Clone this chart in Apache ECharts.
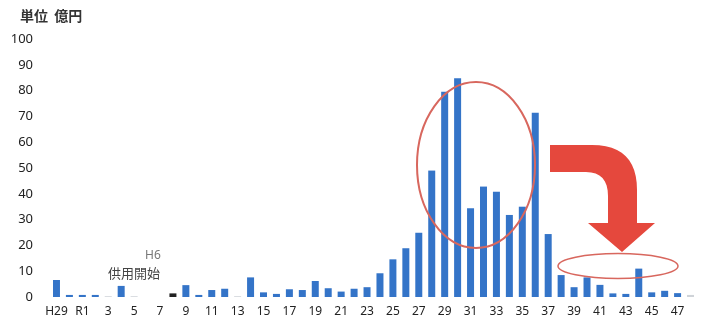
<!DOCTYPE html>
<html>
<head>
<meta charset="utf-8">
<script src="https://cdn.jsdelivr.net/npm/echarts@6/dist/echarts.min.js"></script>
<style>
  html, body { margin: 0; padding: 0; background: #fff; }
  #chart { width: 703px; height: 320px; }
</style>
</head>
<body>
<div id="chart"></div>
<script>
// 年度（H29, H30, R1..R48）
var years = ['H29', 'H30', 'R1'];
for (var i = 2; i <= 48; i++) years.push(String(i));

// 金額（億円）
var amounts = [
  6.6, 0.8, 0.8, 0.8, 0.3, 4.3, 0.3, 0, 0, 1.4,
  4.6, 0.8, 2.7, 3.2, 0.3, 7.6, 1.8, 1.2, 3.0, 2.7,
  6.2, 3.4, 2.1, 3.2, 3.8, 9.2, 14.6, 18.9, 24.9, 49,
  79.6, 84.8, 34.4, 42.8, 40.8, 31.8, 35, 71.4, 24.4, 8.5,
  3.8, 7.6, 4.7, 1.4, 1.2, 11, 1.8, 2.4, 1.5, 0.8
];

// 色分け用
var greyYears = ['3', '5', '13', '48'];
var blackYears = ['8'];

var yTicks = [0, 10, 20, 30, 40, 50, 60, 70, 80, 90, 100];

// 2次ベジェを点列に
function quad(p0, c, p1, n){
  var pts = [];
  for (var k = 0; k <= n; k++) {
    var t = k / n, u = 1 - t;
    pts.push([u*u*p0[0] + 2*u*t*c[0] + t*t*p1[0], u*u*p0[1] + 2*u*t*c[1] + t*t*p1[1]]);
  }
  return pts;
}

function arrowPoints(){
  var pts = [[550, 145]];
  pts = pts.concat(quad([592, 145], [637, 145], [637, 190], 12));
  pts.push([637, 223], [655, 223], [622, 252], [588, 223], [608, 223]);
  pts = pts.concat(quad([608, 196], [608, 172], [586, 172], 8));
  pts.push([550, 172]);
  return pts;
}

function chart(){
  var myChart = echarts.init(document.getElementById('chart'));

  var option = {
    animation: false,
    grid: { left: 50, right: 6, top: 39, bottom: 23 },
    xAxis: {
      type: 'category',
      data: years,
      axisLine: { show: false },
      axisTick: { show: false },
      axisLabel: {
        interval: 1,
        color: '#222',
        fontSize: 12,
        fontFamily: 'Noto Sans',
        margin: 9
      }
    },
    yAxis: {
      type: 'value',
      min: yTicks[0],
      max: yTicks[yTicks.length - 1],
      interval: 10,
      splitLine: { show: false },
      axisLine: { show: false },
      axisTick: { show: false },
      axisLabel: {
        color: '#222',
        fontSize: 13,
        fontFamily: 'Noto Sans',
        margin: 17
      }
    },
    series: [{
      name: '金額',
      type: 'bar',
      data: amounts,
      barWidth: 7,
      itemStyle: {
        color: function (p) {
          if (blackYears.indexOf(p.name) >= 0) return '#222';
          if (greyYears.indexOf(p.name) >= 0) return '#cfd3d8';
          return '#3474c8';
        }
      }
    }],
    graphic: [
      {
        type: 'text', x: 20, y: 9,
        style: { text: '単位  億円', fill: '#333', fontSize: 14, fontWeight: 'bold',
                 fontFamily: 'Noto Sans CJK JP' }
      },
      {
        type: 'text', x: 145, y: 250,
        style: { text: 'H6', fill: '#777', fontSize: 12, fontFamily: 'Noto Sans' }
      },
      {
        type: 'text', x: 108, y: 267,
        style: { text: '供用開始', fill: '#444', fontSize: 13, fontFamily: 'Noto Sans CJK JP' }
      },
      {
        type: 'ellipse', z: 10,
        shape: { cx: 476, cy: 165, rx: 59, ry: 83 },
        style: { fill: 'none', stroke: '#d8675e', lineWidth: 2 }
      },
      {
        type: 'ellipse', z: 10,
        shape: { cx: 618, cy: 266, rx: 60, ry: 12.5 },
        style: { fill: 'none', stroke: '#d8675e', lineWidth: 1.5 }
      },
      {
        type: 'polygon', z: 10,
        shape: { points: arrowPoints() },
        style: { fill: '#e5483d' }
      }
    ]
  };

  myChart.setOption(option);
}
chart();
</script>
</body>
</html>
